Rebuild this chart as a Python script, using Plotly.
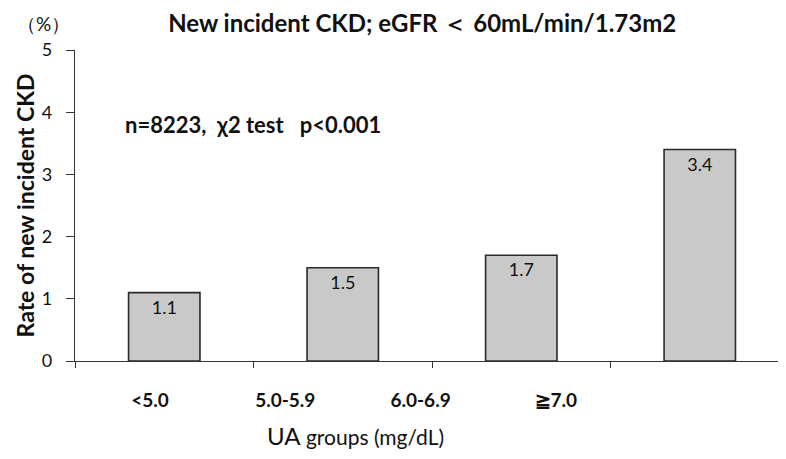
import plotly.graph_objects as go

categories = ["<5.0", "5.0-5.9", "6.0-6.9", "≧7.0"]
rates = [1.1, 1.5, 1.7, 3.4]
rate_labels = ["1.1", "1.5", "1.7", "3.4"]
y_ticks = [0, 1, 2, 3, 4, 5]

FONT = "Lato, 'Open Sans', sans-serif"

fig = go.Figure()
fig.add_trace(go.Bar(
    x=categories, y=rates, text=rate_labels,
    textposition="inside", insidetextanchor="end",
    textfont=dict(family=FONT, size=18, color="#111"),
    marker=dict(color="#c9c9c9", line=dict(color="#2a2a2a", width=1.6)),
    width=0.40, cliponaxis=False,
))

fig.update_layout(
    width=786, height=459,
    margin=dict(l=67, r=8, t=42, b=106),
    plot_bgcolor="white", paper_bgcolor="white",
    showlegend=False,
    font=dict(family=FONT, color="#111"),
    title=dict(text="<b>New incident CKD; eGFR ＜ 60mL/min/1.73m2</b>",
               x=0.527, xanchor="center", y=0.965, yanchor="middle",
               font=dict(size=24, family=FONT, color="#111")),
    xaxis=dict(
        type="category", range=[-0.5, 3.483],
        showline=True, linecolor="#333", linewidth=1.2,
        ticks="outside", tickson="boundaries", ticklen=6, tickcolor="#333",
        showticklabels=False,
        showgrid=False, zeroline=False,
    ),
    # label axis: the category labels in the reference sit at a tighter spacing
    xaxis2=dict(
        overlaying="x", anchor="y", side="bottom",
        range=[-0.554, 4.701],
        tickvals=list(range(len(categories))),
        ticktext=["<b>" + c.replace("<", "&lt;") + "</b>" for c in categories],
        tickfont=dict(size=19, family=FONT, color="#111"),
        ticks="", ticklabelstandoff=26,
        showline=False, showgrid=False, zeroline=False,
    ),
    yaxis=dict(
        range=[0, 5], tickvals=y_ticks,
        showline=True, linecolor="#333", linewidth=1.2,
        ticks="outside", ticklen=8, tickcolor="#333",
        tickfont=dict(size=18, family=FONT, color="#111"),
        ticklabelstandoff=10,
        title=dict(text="<b>Rate of new incident CKD</b>",
                   font=dict(size=23, family=FONT, color="#111"), standoff=0),
        showgrid=False, zeroline=False,
    ),
    annotations=[
        dict(text="（%）", xref="paper", yref="paper", x=-0.045, y=1.085,
             xanchor="center", yanchor="middle", showarrow=False,
             font=dict(size=19, family=FONT, color="#111")),
        dict(text="<b>n=8223,  χ2 test   p&lt;0.001</b>", xref="paper", yref="y",
             x=0.068, y=3.81, xanchor="left", yanchor="middle", showarrow=False,
             font=dict(size=22, family=FONT, color="#111")),
        dict(text="<span style='font-size:24px'>UA</span> groups (mg/dL)",
             xref="paper", yref="paper", x=0.394, y=-0.238,
             xanchor="center", yanchor="middle", showarrow=False,
             font=dict(size=21, family=FONT, color="#111")),
    ],
)
fig.add_trace(go.Scatter(x=[None], y=[None], xaxis="x2", yaxis="y",
                         showlegend=False, hoverinfo="skip"))

fig.write_html("out.html")
